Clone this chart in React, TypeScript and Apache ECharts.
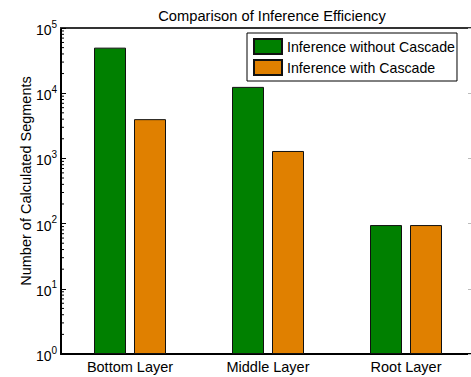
import React, { useEffect, useRef } from "react";
import * as echarts from "echarts";

const categories = ["Bottom Layer", "Middle Layer", "Root Layer"];
const withoutCascade = [50000, 12500, 95];
const withCascade = [4000, 1300, 95];
const seriesNames = ["Inference without Cascade", "Inference with Cascade"];
const decadeStarts = [1, 10, 100, 1000, 10000];
const minorMultipliers = [2, 3, 4, 5, 6, 7, 8, 9];

const FONT = "'Liberation Sans', Arial, Helvetica, sans-serif";

export default function App() {
  const ref = useRef<HTMLDivElement>(null);
  useEffect(() => {
    if (!ref.current) return;
    const chart = echarts.init(ref.current, undefined, { renderer: "svg" });
    const minorData: number[][] = [];
    decadeStarts.forEach((d) => minorMultipliers.forEach((m) => minorData.push([0, d * m])));
    chart.setOption({
      animation: false,
      backgroundColor: "#fff",
      textStyle: { fontFamily: FONT },
      title: {
        text: "Comparison of Inference Efficiency",
        left: 267,
        top: 3,
        textAlign: "center",
        textStyle: { fontFamily: FONT, fontSize: 14.7, fontWeight: "normal", color: "#000" },
      },
      legend: {
        data: seriesNames,
        orient: "vertical",
        left: 247,
        top: 33,
        itemWidth: 28,
        itemHeight: 15,
        itemGap: 4,
        padding: [5, 2, 5, 6],
        borderColor: "#000",
        borderWidth: 1,
        backgroundColor: "#fff",
        icon: "rect",
        textStyle: { fontFamily: FONT, fontSize: 14.2, color: "#000" },
      },
      grid: { left: 61, right: 5, top: 28, bottom: 23 },
      xAxis: [
        {
          type: "category",
          data: categories,
          position: "bottom",
          axisLine: { lineStyle: { color: "#000", width: 2 } },
          axisTick: { alignWithLabel: true, inside: true, length: 3, lineStyle: { color: "#888" } },
          axisLabel: { fontFamily: FONT, fontSize: 14.5, color: "#000", margin: 5 },
        },
        {
          type: "category",
          data: categories,
          position: "top",
          axisLine: { lineStyle: { color: "#333", width: 2 } },
          axisTick: { alignWithLabel: true, inside: true, length: 4, lineStyle: { color: "#555" } },
          axisLabel: { show: false },
        },
      ],
      yAxis: [
        {
          type: "log",
          logBase: 10,
          min: 1,
          max: 100000,
          splitNumber: 5,
          position: "left",
          name: "Number of Calculated Segments",
          nameLocation: "middle",
          nameGap: 28,
          nameMoveOverlap: false,
          nameTextStyle: { fontFamily: FONT, fontSize: 14.5, color: "#000", padding: [0, 0, 0, 20] },
          axisLine: { show: true, lineStyle: { color: "#000", width: 2 } },
          axisTick: { show: true, inside: true, length: 5, lineStyle: { color: "#000" } },
          splitLine: { show: false },
          axisLabel: {
            margin: 4,
            formatter: (v: number) => `{b|10}{s|${Math.round(Math.log10(v))}}`,
            rich: {
              b: { fontFamily: FONT, fontSize: 14, color: "#000", verticalAlign: "bottom" },
              s: { fontFamily: FONT, fontSize: 10, color: "#000", verticalAlign: "bottom", padding: [0, 0, 8, 0] },
            },
          },
        },
        {
          type: "log",
          logBase: 10,
          min: 1,
          max: 100000,
          splitNumber: 5,
          position: "right",
          axisLine: { show: true, lineStyle: { color: "#000", width: 2 } },
          axisTick: { show: true, inside: true, length: 7, lineStyle: { color: "#bbb" } },
          axisLabel: { show: false },
          splitLine: { show: false },
        },
      ],
      series: [
        {
          name: seriesNames[0],
          type: "bar",
          data: withoutCascade,
          barWidth: 32,
          barGap: "25%",
          itemStyle: { color: "#008000", borderColor: "#111", borderWidth: 1 },
        },
        {
          name: seriesNames[1],
          type: "bar",
          data: withCascade,
          barWidth: 32,
          barGap: "25%",
          itemStyle: { color: "#e08000", borderColor: "#111", borderWidth: 1 },
        },
        {
          type: "custom",
          name: "minorTicks",
          data: minorData,
          encode: { x: 0, y: 1 },
          silent: true,
          z: 10,
          renderItem: (params: any, api: any) => {
            const y = api.coord([0, api.value(1)])[1];
            const x0 = params.coordSys.x;
            return {
              type: "line",
              shape: { x1: x0, y1: y, x2: x0 + 3, y2: y },
              style: { stroke: "#000", lineWidth: 1 },
            };
          },
        },
      ],
    });
    return () => chart.dispose();
  }, []);
  return (
    <div style={{ position: "absolute", left: 0, top: 0, width: 471, height: 377, overflow: "hidden" }}>
      <div ref={ref} style={{ width: 480, height: 377 }} />
    </div>
  );
}
